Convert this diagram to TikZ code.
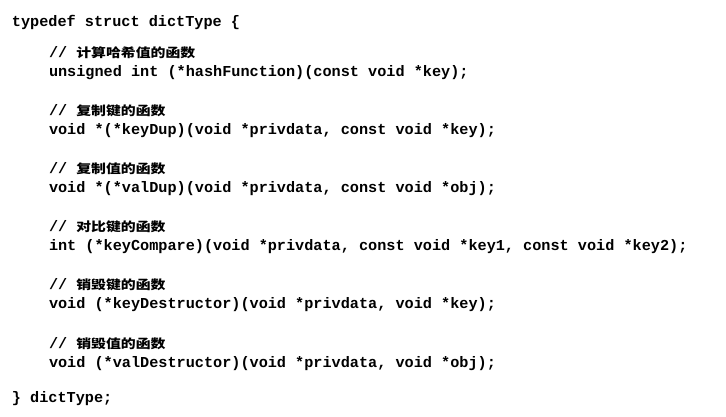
\documentclass[tikz,border=0pt]{standalone}
\usepackage{fontspec}
\setmonofont{Liberation Mono}
\newfontfamily\cjk[FakeStretch=1.19]{Noto Sans CJK SC}
\tikzset{
  code/.style={anchor=base west, inner sep=0pt, outer sep=0pt,
    font=\ttfamily\bfseries\fontsize{15.2pt}{18pt}\selectfont, text=black},
  cmt/.style={code},
}
\newcommand{\zh}[1]{{\cjk\bfseries\fontsize{12.5pt}{15pt}\selectfont #1}}
\begin{document}
\begin{tikzpicture}[x=1pt,y=1pt]
\useasboundingbox[fill=white] (0,0) rectangle (726,-416);
\node[code] (top) at (12,-26) {typedef struct dictType \{};
\node[cmt] (c1) at (49,-57) {// \zh{计算哈希值的函数}};
\node[code] (f1) at (49,-76) {unsigned int (*hashFunction)(const void *key);};
\node[cmt] (c2) at (49,-115) {// \zh{复制键的函数}};
\node[code] (f2) at (49,-134.2) {void *(*keyDup)(void *privdata, const void *key);};
\node[cmt] (c3) at (49,-173.4) {// \zh{复制值的函数}};
\node[code] (f3) at (49,-192.4) {void *(*valDup)(void *privdata, const void *obj);};
\node[cmt] (c4) at (49,-231.6) {// \zh{对比键的函数}};
\node[code] (f4) at (49,-250.6) {int (*keyCompare)(void *privdata, const void *key1, const void *key2);};
\node[cmt] (c5) at (49,-289.8) {// \zh{销毁键的函数}};
\node[code] (f5) at (49,-308.8) {void (*keyDestructor)(void *privdata, void *key);};
\node[cmt] (c6) at (49,-348) {// \zh{销毁值的函数}};
\node[code] (f6) at (49,-367) {void (*valDestructor)(void *privdata, void *obj);};
\node[code] (bot) at (12,-402) {\} dictType;};
\end{tikzpicture}
\end{document}
